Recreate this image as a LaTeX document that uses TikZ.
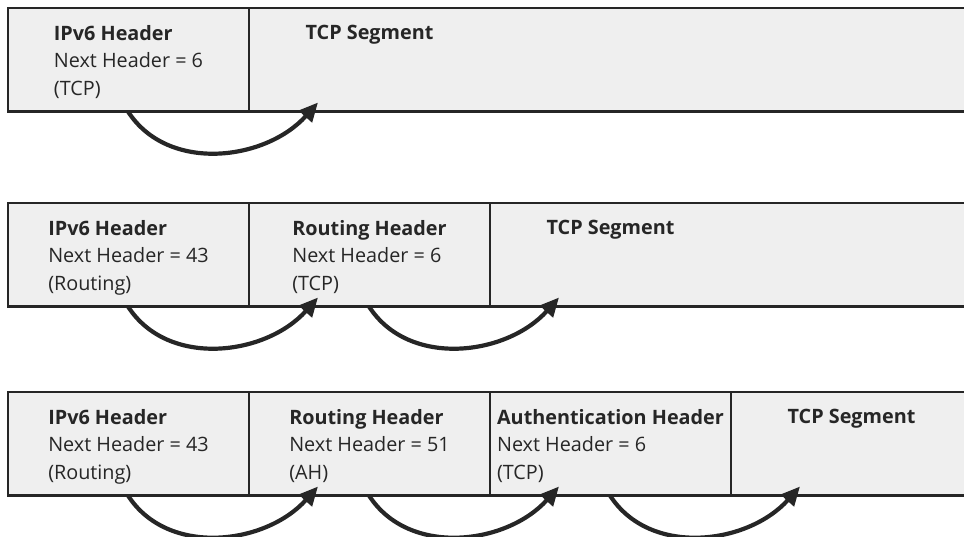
\documentclass[tikz,border=0pt]{standalone}
\usepackage{fontspec}
\setsansfont{Open Sans}
\usetikzlibrary{calc,arrows.meta}
\definecolor{ink}{HTML}{262626}
\definecolor{cellfill}{HTML}{EFEFEF}

\begin{document}
\begin{tikzpicture}[x=1pt,y=-1pt,font=\sffamily\fontsize{19.8}{27.5}\selectfont,
    cell/.style={draw=ink,fill=cellfill,line width=2.4pt,outer sep=0pt,
        inner sep=0pt,anchor=north west,minimum width=241pt,minimum height=103.5pt},
    seg/.style={cell,minimum width=800pt},
    txt/.style={anchor=north,align=left,inner sep=0pt,text=ink},
    hop/.style={draw=ink,line width=4.2pt,-{Triangle[length=19pt,width=17pt]}}]
            \clip (0,0) rectangle (964,537);
            % the three packets, one row of cells each
            \foreach \R/\T/\N in {1/8/2,2/203/3,3/392/4}
                {\foreach \C in {1,...,\N}
                {\ifnum\C=\N
            \node[seg] (r\R-\C) at ({8+241*(\C-1)},\T) {};
            \else
            \node[cell] (r\R-\C) at ({8+241*(\C-1)},\T) {};
            \fi}}
            % header texts
            \foreach \R/\C/\H/\B in
                {1/1/{IPv6 Header}/{\\Next Header = 6\\(TCP)},
                 1/2/{TCP Segment}/{},
                 2/1/{IPv6 Header}/{\\Next Header = 43\\(Routing)},
                 2/2/{Routing Header}/{\\Next Header = 6\\(TCP)},
                 2/3/{TCP Segment}/{},
                 3/1/{IPv6 Header}/{\\Next Header = 43\\(Routing)},
                 3/2/{Routing Header}/{\\Next Header = 51\\(AH)},
                 3/3/{Authentication Header}/{\\Next Header = 6\\(TCP)},
                 3/4/{TCP Segment}/{}}
                {\node[txt] (t\R-\C) at ($(r\R-\C.north west)+(120.5,17)$) {\textbf{\H}\B};}
            % next header chain
            \foreach \R/\N in {1/1,2/2,3/3}
                {\foreach \C [evaluate=\C as \D using int(\C+1)] in {1,...,\N}
                {\draw[hop] ($(r\R-\C.south west)+(120,0)$)
                    .. controls +(40,62) and +(-52,58) .. ($(r\R-\D.south west)+(69,-9)$);}}
        \end{tikzpicture}
\end{document}
